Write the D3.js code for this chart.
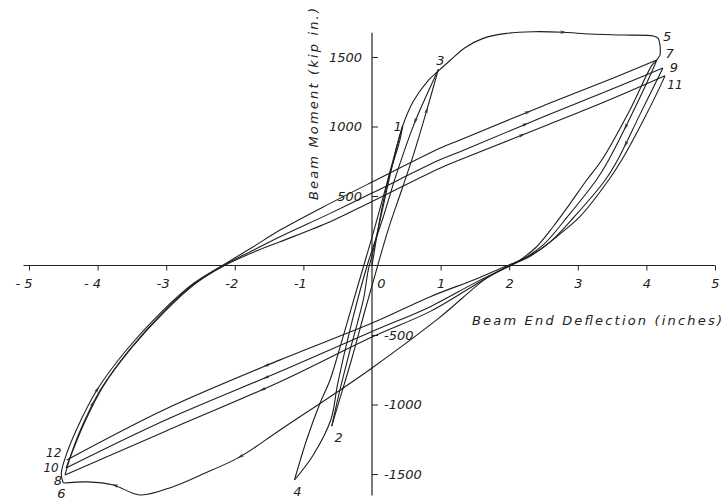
<!DOCTYPE html>
<html>
<head>
<meta charset="utf-8">
<script src="https://cdn.jsdelivr.net/npm/d3@7"></script>
<style>
  html, body { margin: 0; padding: 0; background: #fff; }
  svg { display: block; }
  text { font-family: "DejaVu Sans", sans-serif; font-style: italic; fill: #222; }
</style>
</head>
<body>
<svg id="chart" width="725" height="504"></svg>
<script>
// axis ticks
const xTicks = [-5, -4, -3, -2, -1, 0, 1, 2, 3, 4, 5];
const xTickLabels = ["- 5", "- 4", "-3", "-2", "-1", "0", "1", "2", "3", "4", "5"];
const yTicks = [1500, 1000, 500, -500, -1000, -1500];
const yTickLabels = ["1500", "1000", "500", "-500", "-1000", "-1500"];
const xAxisExtent = [-5.08, 5.0];
const yAxisExtent = [-1655, 1675];

// branches of the moment / deflection record, [deflection (in), moment (kip in)]
const loadO1 = [[0, 0], [0.05, 150], [0.12, 350], [0.2, 540], [0.27, 680], [0.34, 790], [0.41, 910], [0.447, 1004]];
const unload12 = [[0.447, 1004], [0.36, 850], [0.25, 620], [0.12, 330], [0.0, 70], [-0.054, -32], [-0.127, -248], [-0.32, -608], [-0.47, -900], [-0.587, -1155]];
const load23 = [[-0.587, -1155], [-0.5, -1010], [-0.3, -680], [-0.1, -320], [0.092, 16], [0.25, 280], [0.433, 543], [0.6, 790], [0.8, 1120], [0.967, 1411]];
const unload34 = [[0.967, 1411], [0.8, 1230], [0.627, 1035], [0.36, 663], [0.165, 351], [-0.07, 0], [-0.3, -420], [-0.5, -850], [-0.6, -1110], [-0.856, -1363], [-1.13, -1543]];
const load45 = [[-1.13, -1543], [-0.95, -1250], [-0.758, -991], [-0.612, -824], [-0.45, -560], [-0.28, -270], [-0.12, 0], [0.05, 290], [0.2, 560], [0.33, 800], [0.447, 1004], [0.6, 1180], [0.8, 1320], [0.98, 1405], [1.15, 1480], [1.35, 1565], [1.62, 1634], [1.96, 1670], [2.35, 1682], [2.79, 1678], [3.18, 1665], [3.66, 1658], [4.1, 1651], [4.17, 1634], [4.2, 1574], [4.2, 1514]];
const unload56 = [[4.2, 1514], [4.15, 1478], [4.08, 1440], [3.75, 1110], [3.35, 759], [3.13, 615], [2.89, 447], [2.64, 279], [2.4, 135], [2.16, 40], [1.99, -9], [1.7, -80], [0.97, -380], [0, -737], [-0.42, -881], [-1.34, -1183], [-1.92, -1375], [-2.51, -1510], [-2.9, -1591], [-3.38, -1651], [-3.77, -1579], [-4.14, -1557], [-4.5, -1565]];
const load67 = [[-4.5, -1565], [-4.53, -1500], [-4.47, -1380], [-4.31, -1183], [-4.01, -896], [-3.58, -608], [-3.09, -344], [-2.6, -128], [-2.15, 10], [-1.73, 135], [-1.34, 255], [-0.61, 447], [0, 600], [0.99, 843], [1.283, 903], [2.5, 1150], [3.5, 1345], [4.15, 1478]];
const unload78 = [[4.15, 1478], [4.12, 1440], [3.8, 1100], [3.45, 759], [3.27, 615], [2.85, 351], [2.5, 150], [2.2, 45], [2.0, 0], [1.5, -140], [0.85, -330], [0, -514], [-1.34, -836], [-3, -1190], [-4.475, -1507]];
const load89 = [[-4.475, -1507], [-4.4, -1380], [-4.25, -1183], [-3.96, -896], [-3.54, -608], [-3.06, -344], [-2.58, -128], [-2.15, 5], [-1.73, 110], [-1.34, 207], [-0.61, 375], [0, 521], [0.99, 760], [1.283, 819], [2.5, 1070], [3.5, 1270], [4.24, 1421]];
const unload910 = [[4.24, 1421], [4.2, 1380], [3.9, 1080], [3.58, 759], [3.4, 615], [2.95, 351], [2.6, 170], [2.3, 65], [2.02, 0], [1.5, -125], [0.85, -296], [0, -475], [-1.34, -763], [-3, -1110], [-4.46, -1457]];
const load1011 = [[-4.46, -1457], [-4.36, -1330], [-4.2, -1140], [-3.92, -870], [-3.5, -590], [-3.03, -335], [-2.56, -125], [-2.15, 0], [-1.73, 95], [-1.34, 171], [-0.61, 315], [0, 461], [0.99, 700], [1.283, 760], [2.5, 1000], [3.5, 1200], [4.27, 1365]];
const unload1112 = [[4.27, 1365], [4.24, 1330], [3.95, 1040], [3.64, 759], [3.45, 615], [3.03, 351], [2.69, 207], [2.4, 99], [2.11, 27], [1.95, -5], [1.5, -100], [0.85, -224], [0, -414], [-1.34, -679], [-3, -1030], [-4.45, -1399]];

const branches = [loadO1, unload12, load23, unload34, load45, unload56, load67, unload78, load89, unload910, load1011, unload1112];

// numbered load reversals
const peakNames = ["1", "2", "3", "4", "5", "6", "7", "8", "9", "10", "11", "12"];
const peakPoints = [[0.447, 1004], [-0.587, -1155], [0.967, 1411], [-1.13, -1543], [4.2, 1651], [-4.5, -1565], [4.15, 1478], [-4.475, -1507], [4.24, 1421], [-4.46, -1457], [4.27, 1365], [-4.45, -1399]];
// where each number sits relative to its point (px)
const peakLabelOffsets = [[-5, 5], [7, 16], [2, -4], [3, 16], [7, 5], [-2, 15], [13, -2], [-7, 10], [11, 4], [-15, 4], [10, 13], [-13, -3]];

// direction arrows drawn on the branches: [branch index, deflection, moment]
const arrowSpots = [
    [4, 2.79, 1678], [6, 2.28, 1106], [8, 2.23, 1030], [10, 2.18, 960],
    [7, 3.62, 1010], [9, 3.76, 855], [6, -3.99, -896], [8, -4.07, -990],
    [11, -1.53, -752], [9, -1.53, -836], [7, -1.59, -896],
    [5, -3.75, -1579], [5, -1.92, -1378], [3, 0.627, 1035], [2, 0.8, 1120]
];

const svg = d3.select("#chart");

const x = d3.scaleLinear().domain([-5, 5]).range([29, 715]);
const y = d3.scaleLinear().domain([-1500, 1500]).range([474, 57]);

const axisColor = "#222";

// x axis
const gx = svg.append("g")
    .attr("transform", `translate(0,${y(0)})`)
    .call(d3.axisBottom(x)
        .tickValues(xTicks)
        .tickSize(5)
        .tickPadding(8)
        .tickFormat((d, i) => xTickLabels[i]))
    .call(g => g.select(".domain").remove());

gx.selectAll(".tick line").attr("stroke", axisColor);
gx.selectAll(".tick").filter(d => d === 0).select("line").remove();
gx.selectAll(".tick text")
    .attr("font-size", 13)
    .attr("font-family", null)
    .attr("text-anchor", d => d < 0 ? "end" : "middle")
    .attr("dx", d => d < 0 ? 3 : (d === 0 ? 9 : 0));

svg.append("line")
    .attr("x1", x(xAxisExtent[0])).attr("x2", x(xAxisExtent[1]))
    .attr("y1", y(0)).attr("y2", y(0))
    .attr("stroke", axisColor).attr("stroke-width", 1.2);

// y axis
const gy = svg.append("g")
    .attr("transform", `translate(${x(0)},0)`)
    .call(d3.axisRight(y)
        .tickValues(yTicks)
        .tickSize(6)
        .tickFormat((d, i) => yTickLabels[i]))
    .call(g => g.select(".domain").remove());

gy.selectAll(".tick line").attr("stroke", axisColor);
gy.selectAll(".tick text")
    .attr("font-size", 13)
    .attr("font-family", null)
    .attr("text-anchor", d => d > 0 ? "end" : "start")
    .attr("x", d => d > 0 ? -10 : 12);

svg.append("line")
    .attr("x1", x(0)).attr("x2", x(0))
    .attr("y1", y(yAxisExtent[0])).attr("y2", y(yAxisExtent[1]))
    .attr("stroke", axisColor).attr("stroke-width", 1.2);

// axis titles
svg.append("text")
    .attr("x", 472)
    .attr("y", 325)
    .attr("font-size", 13)
    .attr("textLength", 250)
    .attr("lengthAdjust", "spacing")
    .text("Beam End Deflection (inches)");

svg.append("text")
    .attr("transform", "translate(318,200) rotate(-90)")
    .attr("font-size", 13)
    .attr("textLength", 192)
    .attr("lengthAdjust", "spacing")
    .text("Beam Moment (kip in.)");

// hysteresis branches
const line = d3.line()
    .x(d => x(d[0]))
    .y(d => y(d[1]))
    .curve(d3.curveCatmullRom.alpha(0.5));

const paths = svg.append("g")
    .selectAll("path")
    .data(branches)
    .join("path")
    .attr("d", line)
    .attr("fill", "none")
    .attr("stroke", "#1e1e1e")
    .attr("stroke-width", 1.1)
    .attr("stroke-linejoin", "round")
    .nodes();

// small arrowheads: find the nearest spot on the branch and point along it
const arrowG = svg.append("g");
arrowSpots.forEach(([bi, dx, dm]) => {
    const p = paths[bi];
    const total = p.getTotalLength();
    const tx = x(dx), ty = y(dm);
    let best = 0, bestD = Infinity;
    for (let l = 0; l <= total; l += 1) {
        const pt = p.getPointAtLength(l);
        const dd = (pt.x - tx) ** 2 + (pt.y - ty) ** 2;
        if (dd < bestD) { bestD = dd; best = l; }
    }
    const a = p.getPointAtLength(Math.max(0, best - 2));
    const b = p.getPointAtLength(Math.min(total, best + 2));
    const ang = Math.atan2(b.y - a.y, b.x - a.x) * 180 / Math.PI;
    const c = p.getPointAtLength(best);
    arrowG.append("path")
        .attr("d", "M3.5,0 L-3.5,-1.6 L-2,0 L-3.5,1.6 Z")
        .attr("transform", `translate(${c.x},${c.y}) rotate(${ang})`)
        .attr("fill", "#333");
});

// reversal numbers
svg.append("g")
    .selectAll("text")
    .data(peakNames)
    .join("text")
    .attr("x", (d, i) => x(peakPoints[i][0]) + peakLabelOffsets[i][0])
    .attr("y", (d, i) => y(peakPoints[i][1]) + peakLabelOffsets[i][1])
    .attr("text-anchor", "middle")
    .attr("font-size", d => d.length > 1 ? 12 : 13)
    .text(d => d);
</script>
</body>
</html>
